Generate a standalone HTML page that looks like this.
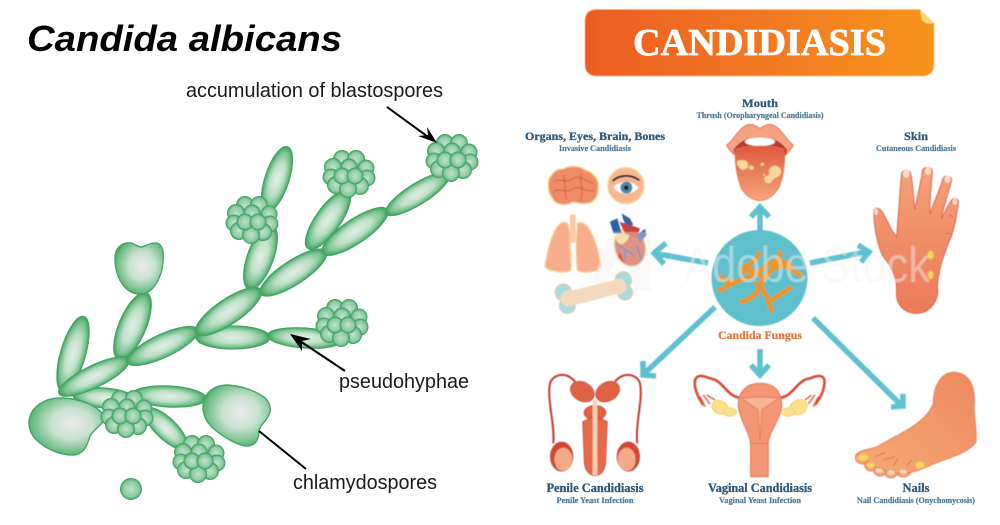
<!DOCTYPE html>
<html><head><meta charset="utf-8"><title>Candida albicans</title>
<style>html,body{margin:0;padding:0;background:#fff;width:1000px;height:525px;overflow:hidden}svg{display:block}
.lb{font-family:"Liberation Sans",sans-serif;fill:#1a1a1a}
.h{font-family:"Liberation Serif",serif;font-weight:bold;fill:#2f5a7c;stroke:#2f5a7c;stroke-width:.3;text-anchor:middle}
.s{font-family:"Liberation Serif",serif;font-weight:bold;fill:#4d7a9c;stroke:#4d7a9c;stroke-width:.2;text-anchor:middle}
</style></head><body>
<svg width="1000" height="525" viewBox="0 0 1000 525" xmlns="http://www.w3.org/2000/svg">
<defs>
<radialGradient id="c"><stop offset="0" stop-color="#e2efe6"/><stop offset=".5" stop-color="#bfe0c8"/><stop offset=".82" stop-color="#79c38f"/><stop offset="1" stop-color="#3fa060"/></radialGradient>
<radialGradient id="sp" cx=".56" cy=".45" r=".6"><stop offset="0" stop-color="#ece9ec"/><stop offset=".45" stop-color="#c8e2d0"/><stop offset=".85" stop-color="#6dbd85"/><stop offset="1" stop-color="#45a565"/></radialGradient>
<radialGradient id="b" cx=".5" cy=".5" r=".55"><stop offset="0" stop-color="#bfe2c9"/><stop offset=".65" stop-color="#8fcca2"/><stop offset="1" stop-color="#3fa060"/></radialGradient>
<linearGradient id="ban" x1="0" x2="1" y1="0" y2="0"><stop offset="0" stop-color="#ec5c24"/><stop offset="1" stop-color="#f7941e"/></linearGradient>
<linearGradient id="ton" x1="0" x2="0" y1="0" y2="1"><stop offset="0" stop-color="#de5a3c"/><stop offset="1" stop-color="#f7a57f"/></linearGradient>
<linearGradient id="skin" x1="0" x2="0" y1="0" y2="1"><stop offset="0" stop-color="#f5a279"/><stop offset="1" stop-color="#ea7a58"/></linearGradient>
<linearGradient id="ft" x1="1" x2="0" y1="0" y2="1"><stop offset="0" stop-color="#ee8a62"/><stop offset="1" stop-color="#f6a972"/></linearGradient>
<g id="cl" stroke="#45a565" stroke-width="1" fill="url(#b)">
<ellipse cx="0" cy="0" rx="19" ry="17" stroke="none" fill="#8fcca2"/>
<circle cx="-7" cy="-14" r="8.500"/><circle cx="7" cy="-14" r="8.500"/><circle cx="-16" cy="-6" r="8.500"/><circle cx="17" cy="-5" r="8"/><circle cx="-18" cy="4" r="8"/><circle cx="18" cy="5" r="8"/><circle cx="-13" cy="12" r="8.500"/><circle cx="11" cy="13" r="8.500"/><circle cx="-1" cy="16" r="8.500"/>
<circle cx="0" cy="-6" r="8"/><circle cx="-7" cy="3" r="8"/><circle cx="6" cy="3" r="8"/>
</g>
<filter id="bl" x="-5%" y="-5%" width="110%" height="110%"><feGaussianBlur stdDeviation=".45"/></filter>
<filter id="bl2" x="-5%" y="-5%" width="110%" height="110%"><feGaussianBlur stdDeviation=".3"/></filter>
</defs>

<!-- LEFT DIAGRAM -->
<text x="27" y="51" font-family="'Liberation Sans',sans-serif" font-weight="bold" font-style="italic" font-size="36" fill="#000" textLength="315" lengthAdjust="spacingAndGlyphs">Candida albicans</text>

<g filter="url(#bl2)">
<g fill="url(#c)" stroke="#45a565" stroke-width="1.2">
<ellipse cx="73" cy="354" rx="39" ry="12.500" transform="rotate(-74 73 354)"/>
<ellipse cx="132.5" cy="326" rx="36" ry="13.500" transform="rotate(-67 132.5 326)"/>
<ellipse cx="260.5" cy="257" rx="34" ry="13" transform="rotate(-70 260.5 257)"/>
<ellipse cx="277" cy="179" rx="34" ry="12" transform="rotate(-72 277 179)"/>
<ellipse cx="328" cy="220" rx="35" ry="12.500" transform="rotate(-55 328 220)"/>
<ellipse cx="105" cy="398" rx="32" ry="10" transform="rotate(5 105 398)"/>
<ellipse cx="169" cy="396.5" rx="37" ry="10.500" transform="rotate(3 169 396.500)"/>
<ellipse cx="166" cy="428.5" rx="28" ry="10.500" transform="rotate(44 166 428.5)"/>
<ellipse cx="94" cy="376.5" rx="39" ry="11" transform="rotate(-26 94 376.5)"/>
<ellipse cx="233" cy="337.5" rx="37" ry="11.500"/>
<ellipse cx="304.5" cy="338" rx="37" ry="10" transform="rotate(4 304.5 338)"/>
<ellipse cx="162.5" cy="346" rx="39" ry="11.500" transform="rotate(-25 162.5 346)"/>
<ellipse cx="228.5" cy="311.5" rx="39" ry="12.500" transform="rotate(-34 228.5 311.5)"/>
<ellipse cx="293.5" cy="272.5" rx="39" ry="12" transform="rotate(-33 293.5 272.5)"/>
<ellipse cx="355" cy="231.5" rx="39" ry="12" transform="rotate(-34 355 231.5)"/>
<ellipse cx="417.5" cy="194" rx="37" ry="10.500" transform="rotate(-32 417.5 194)"/>
</g>
<g fill="url(#sp)" stroke="#45a565" stroke-width="1.4">
<path d="M115,258C115,246 124,242 131,243C135,244 138,247 141,247C145,247 150,242 157,243C163,245 164,252 163,262C162,276 154,294 140,294C124,294 115,276 115,258Z"/>
<path d="M29,422C30,407 45,397 63,398C83,399 98,406 105,417C103,425 95,428 90,436C87,447 83,455 72,455C60,455 47,449 40,443C33,438 29,431 29,422Z"/>
<path d="M203,407C203,393 214,385 228,385C243,386 255,391 264,397C269,401 271,407 270,412C268,420 261,424 259,430C259,437 257,446 247,446C238,446 222,436 214,429C207,423 203,416 203,407Z"/>
</g>
<use href="#cl" x="452" y="157"/>
<use href="#cl" x="349" y="173"/>
<use href="#cl" x="252" y="219"/>
<use href="#cl" x="342" y="322"/>
<use href="#cl" x="127" y="413"/>
<use href="#cl" x="199" y="458"/>
<circle cx="131" cy="489" r="10.5" fill="url(#b)" stroke="#45a565"/>
</g>

<g stroke="#000" stroke-width="2" fill="none">
<line x1="387" y1="107" x2="431" y2="139"/>
<line x1="345" y1="371" x2="297" y2="339"/>
<line x1="306" y1="469" x2="259" y2="431"/>
</g>
<path d="M437,143L418,136L428,135L427,127Z" fill="#000"/>
<path d="M290,334L311,339L302,341L302,351Z" fill="#000"/>

<text class="lb" x="186" y="97" font-size="20" textLength="257" lengthAdjust="spacingAndGlyphs">accumulation of blastospores</text>
<text class="lb" x="339" y="388" font-size="20" textLength="130" lengthAdjust="spacingAndGlyphs">pseudohyphae</text>
<text class="lb" x="293" y="489" font-size="20" textLength="144" lengthAdjust="spacingAndGlyphs">chlamydospores</text>

<!-- RIGHT -->
<g filter="url(#bl)">
<path d="M597,9.500H920L934,23V64Q934,76 922,76H597Q585,76 585,64V21Q585,9.500 597,9.500Z" fill="url(#ban)"/>
<path d="M920,9.500L934,23Q925,25 922,20Z" fill="#f8d878"/>

<!-- Connector arrows -->
<g stroke="#5fc0cf" stroke-width="5.500" fill="none">
<path d="M760,231V209M751,217L760,207L769,217"/>
<path d="M708,263L658,254M666,243L654,253L664,264"/>
<path d="M810,263L866,252M858,245L869,252L861,262"/>
<path d="M715,307L645,373M643,361L643,375L656,376"/>
<path d="M760,349V373M751,365L760,375L769,365"/>
<path d="M813,318L901,405M903,394L903,406L891,407"/>
</g>

<!-- Central circle and fungus -->
<circle cx="759.500" cy="278" r="48" fill="#5fbfcc"/>
<g transform="translate(700,120) scale(.3333)" stroke="#e8962e" stroke-width="15" fill="none" stroke-linecap="round" stroke-linejoin="round">
<path d="M175,400C170,420 160,430 130,440"/>
<path d="M125,455C150,445 175,455 185,470"/>
<path d="M62,470C80,490 110,490 135,475C160,465 190,450 205,430C230,425 250,425 270,430"/>
<path d="M60,510L100,490"/>
<path d="M240,400C235,420 225,440 190,480C180,495 175,510 170,520C155,535 140,540 125,545"/>
<path d="M170,490C185,500 195,520 200,530L215,570"/>
<path d="M225,445C245,435 260,435 300,465"/>
<path d="M215,540L270,505"/>
</g>

<!-- Mouth -->
<g transform="translate(700,120) scale(.3333)">
<path d="M80,75C100,65 120,15 150,13C165,12 175,25 180,25C185,25 195,12 210,13C240,15 260,65 280,75C268,100 240,125 180,125C120,125 92,100 80,75Z" fill="#f5a283" stroke="#e8704f" stroke-width="3"/>
<path d="M100,90C120,60 150,50 180,52C210,50 240,60 262,90L250,125H112Z" fill="#b93a2a"/>
<ellipse cx="180" cy="65" rx="45" ry="13" fill="#fff"/>
<path d="M108,88C140,75 220,75 252,88C258,125 248,175 238,200C222,228 200,242 180,242C160,242 135,228 122,200C112,170 102,125 108,88Z" fill="url(#ton)" stroke="#e8704f" stroke-width="2.500"/>
<g fill="#f7d79b"><circle cx="120" cy="130" r="10"/><circle cx="130" cy="135" r="15"/><circle cx="154" cy="143" r="7"/><circle cx="225" cy="155" r="18"/><circle cx="205" cy="178" r="12"/><circle cx="215" cy="170" r="10"/><circle cx="187" cy="133" r="5"/><circle cx="192" cy="165" r="3"/></g>
</g>

<!-- Hand -->
<g transform="translate(700,120) scale(.3333)">
<path d="M522,270C530,258 545,268 555,290C565,310 575,335 590,350C595,290 600,210 605,160C607,148 630,148 632,160C640,200 640,240 645,268C652,230 662,190 668,150C672,140 695,140 697,152C695,190 688,240 690,282C705,240 720,205 730,175C735,165 755,168 755,180C745,220 730,260 724,298C735,275 745,255 755,240C760,232 778,235 775,250C770,290 760,340 745,370C730,410 715,450 712,500C720,540 690,580 650,580C610,580 585,550 590,510C590,470 575,440 550,410C535,385 520,320 522,270Z" fill="url(#skin)" stroke="#e2604a" stroke-width="3"/>
<g fill="#f7ddc8"><ellipse cx="619" cy="160" rx="10" ry="14"/><ellipse cx="684" cy="153" rx="9" ry="12"/><ellipse cx="743" cy="178" rx="9" ry="11"/><ellipse cx="765" cy="245" rx="7" ry="10"/><ellipse cx="528" cy="275" rx="6" ry="10"/></g>
<g fill="#f4d25a" stroke="#e8a850" stroke-width="3"><ellipse cx="692" cy="405" rx="10" ry="14"/><ellipse cx="692" cy="465" rx="9" ry="13"/></g>
<path d="M735,340H755M745,285L760,290" stroke="#d5553f" stroke-width="2" fill="none"/>
</g>

<!-- Organs -->
<g transform="translate(530,155) scale(.3333)">
<path d="M55,95C52,60 80,40 100,42C120,30 150,32 165,45C190,50 208,75 205,100C205,125 190,145 170,145C150,150 130,135 120,145C100,155 70,145 65,125C58,118 55,105 55,95Z" fill="#ef8a66" stroke="#f8d28e" stroke-width="4"/>
<g stroke="#d9613f" stroke-width="3" fill="none"><path d="M72,80C90,65 105,90 130,70C150,60 170,80 190,85"/><path d="M70,110C90,95 105,120 130,100C150,90 170,115 192,105"/><path d="M100,60C110,80 100,100 110,135M155,55C145,80 165,105 150,140"/></g>
<circle cx="288" cy="92" r="54" fill="#f7b692" stroke="#f8d48f" stroke-width="4"/>
<path d="M250,98C268,75 305,75 325,98C305,122 270,122 250,98Z" fill="#fff"/>
<circle cx="289" cy="98" r="18" fill="#4b88a9"/><circle cx="289" cy="98" r="7" fill="#12283a"/>
<path d="M248,78C270,58 305,58 328,76" stroke="#222" stroke-width="6" fill="none"/>
<rect x="120" y="178" width="17" height="85" fill="#f9c9a8"/>
<path d="M112,205C85,190 60,240 45,335C60,352 110,355 122,345C125,300 118,250 118,225Z" fill="#f8ad8c" stroke="#f6cf92" stroke-width="4"/>
<path d="M142,205C170,190 200,250 213,335C195,355 155,355 142,345C137,300 138,240 142,225Z" fill="#f8ad8c" stroke="#f6cf92" stroke-width="4"/>
<ellipse cx="300" cy="275" rx="46" ry="60" transform="rotate(-15 300 275)" fill="#d65542" stroke="#f6cf92" stroke-width="4"/>
<path d="M255,245C262,215 290,215 300,235C295,265 265,285 255,245Z" fill="#f8d87a"/>
<path d="M275,175L300,190L310,210L290,215L280,195ZM320,240L345,222L350,240L330,262Z" fill="#2f63a6"/>
<path d="M240,200L262,190L275,235L250,235Z" fill="#2f63a6"/>
<path d="M268,200L330,220L320,250L285,235Z" fill="#c8433c"/>
<path d="M265,270L310,300M320,270L335,315M285,285L285,315" stroke="#2f63a6" stroke-width="5" fill="none"/>
<g fill="#a8dbe0" stroke="#e9c98e" stroke-width="3"><circle cx="100" cy="412" r="25"/><circle cx="112" cy="452" r="24"/><circle cx="280" cy="375" r="25"/><circle cx="285" cy="412" r="23"/></g>
<path d="M115,432L270,393" stroke="#f5d9be" stroke-width="44"/>
<circle cx="115" cy="430" r="24" fill="#f5d9be"/><circle cx="265" cy="395" r="24" fill="#f5d9be"/>
</g>

<!-- Lower organs -->
<g transform="translate(510,300) scale(.3333)">
<path d="M195,245C170,215 130,220 120,250C110,300 135,370 130,430" fill="none" stroke="#c6392e" stroke-width="6"/>
<path d="M315,245C340,215 380,220 390,250C400,300 375,370 382,430" fill="none" stroke="#c6392e" stroke-width="6"/>
<ellipse cx="217" cy="275" rx="38" ry="28" transform="rotate(30 217 275)" fill="#e06244" stroke="#c6392e" stroke-width="2"/>
<ellipse cx="293" cy="275" rx="38" ry="28" transform="rotate(-30 293 275)" fill="#e06244" stroke="#c6392e" stroke-width="2"/>
<ellipse cx="255" cy="338" rx="33" ry="22" fill="#e0603f" stroke="#c6392e" stroke-width="2"/>
<path d="M218,365L240,355H272L292,365L287,490Q282,525 255,527Q228,525 223,490Z" fill="#e56a48" stroke="#c6392e" stroke-width="2"/>
<path d="M248,300H262V525H248Z" fill="#f6d0b8"/>
<ellipse cx="155" cy="470" rx="35" ry="45" fill="#cf4632"/><ellipse cx="160" cy="478" rx="27" ry="35" fill="#f4a98a"/>
<ellipse cx="355" cy="470" rx="35" ry="45" fill="#cf4632"/><ellipse cx="350" cy="478" rx="27" ry="35" fill="#f4a98a"/>

<g fill="#f8e08c" stroke="#f2cc5e" stroke-width="2"><ellipse cx="630" cy="322" rx="26" ry="20" transform="rotate(25 630 322)"/><ellipse cx="660" cy="336" rx="20" ry="13"/><ellipse cx="865" cy="322" rx="28" ry="22" transform="rotate(-25 865 322)"/><ellipse cx="835" cy="336" rx="20" ry="13"/></g>
<path d="M690,293C650,290 640,240 600,235C575,225 550,220 555,260C560,285 570,300 580,315" fill="none" stroke="#d65038" stroke-width="8"/>
<path d="M810,293C850,290 860,240 900,235C925,225 950,220 942,260C938,285 925,300 915,315" fill="none" stroke="#d65038" stroke-width="8"/>
<path d="M570,290L585,320M580,285L600,312M590,285L615,300M925,290L910,320M915,285L895,312M905,285L885,300" stroke="#d65038" stroke-width="4" fill="none"/>
<path d="M750,250C790,250 815,270 815,320C810,360 775,400 775,430V530H722V430C720,400 690,360 685,320C683,275 710,250 750,250Z" fill="#f39673" stroke="#e8704f" stroke-width="3"/>
<path d="M695,295C730,290 770,290 805,295L755,330L750,420L745,330Z" fill="#f7b396" stroke="#e8704f" stroke-width="2"/>
<path d="M722,430H775" stroke="#e8704f" stroke-width="2"/>
</g>

<!-- Foot -->
<g transform="translate(840,360) scale(.3333)">
<g fill="#f5a672" stroke="#e8805a" stroke-width="3"><ellipse cx="70" cy="293" rx="24" ry="19"/><ellipse cx="94" cy="316" rx="20" ry="17"/><ellipse cx="120" cy="333" rx="18" ry="15"/><ellipse cx="153" cy="340" rx="17" ry="14"/><ellipse cx="190" cy="337" rx="20" ry="14"/></g>
<path d="M280,130C280,70 310,35 345,37C390,40 405,80 403,130C400,170 412,210 408,245C395,272 340,290 280,312C250,325 225,338 190,340C150,340 110,325 85,305C65,295 55,288 52,280C70,265 100,270 120,255C170,225 260,190 280,130Z" fill="url(#ft)" stroke="#e8805a" stroke-width="3"/>
<g fill="#f8d9c0"><ellipse cx="70" cy="292" rx="16" ry="10" fill="#f5d65e"/><ellipse cx="92" cy="315" rx="12" ry="8" fill="#f5d65e"/><ellipse cx="118" cy="332" rx="11" ry="7"/><ellipse cx="153" cy="338" rx="11" ry="7"/><ellipse cx="190" cy="335" rx="11" ry="7"/><ellipse cx="240" cy="315" rx="14" ry="10" fill="#f5d65e"/></g>
<path d="M105,290L135,278M130,300L165,290M160,318L175,295M200,318L215,300" stroke="#d5553f" stroke-width="2" fill="none"/>
</g>

<!-- Watermark -->
<path d="M592,283L610,232L651,232V290H635L620,252L605,283Z" fill="#eeeeee" opacity=".4"/>
<text x="683" y="282" font-family="'Liberation Sans',sans-serif" font-size="50" fill="#f2f2f2" opacity=".45" textLength="247" lengthAdjust="spacingAndGlyphs">Adobe Stock</text>
</g>

<text x="759.500" y="55" font-family="'Liberation Serif',serif" font-weight="bold" font-size="38" fill="#fff" stroke="#fff" stroke-width=".7" text-anchor="middle" textLength="253" lengthAdjust="spacingAndGlyphs">CANDIDIASIS</text>

<text class="h" x="760" y="107" font-size="12" textLength="36" lengthAdjust="spacingAndGlyphs">Mouth</text>
<text class="s" x="760" y="118" font-size="8" textLength="127" lengthAdjust="spacingAndGlyphs">Thrush (Oropharyngeal Candidiasis)</text>
<text class="h" x="595" y="140" font-size="12" textLength="140" lengthAdjust="spacingAndGlyphs">Organs, Eyes, Brain, Bones</text>
<text class="s" x="595" y="151" font-size="8" textLength="72" lengthAdjust="spacingAndGlyphs">Invasive Candidiasis</text>
<text class="h" x="916" y="140" font-size="12" textLength="24" lengthAdjust="spacingAndGlyphs">Skin</text>
<text class="s" x="916" y="151" font-size="8" textLength="80" lengthAdjust="spacingAndGlyphs">Cutaneous Candidiasis</text>
<text x="760" y="339" font-family="'Liberation Serif',serif" font-weight="bold" font-size="12" fill="#e8743c" stroke="#e8743c" stroke-width=".25" text-anchor="middle" textLength="84" lengthAdjust="spacingAndGlyphs">Candida Fungus</text>
<text class="h" x="595" y="492" font-size="12.500" textLength="97" lengthAdjust="spacingAndGlyphs">Penile Candidiasis</text>
<text class="s" x="595" y="503" font-size="8" textLength="77" lengthAdjust="spacingAndGlyphs">Penile Yeast Infection</text>
<text class="h" x="760" y="492" font-size="12.500" textLength="104" lengthAdjust="spacingAndGlyphs">Vaginal Candidiasis</text>
<text class="s" x="760" y="503" font-size="8" textLength="82" lengthAdjust="spacingAndGlyphs">Vaginal Yeast Infection</text>
<text class="h" x="916" y="492" font-size="12.500" textLength="27" lengthAdjust="spacingAndGlyphs">Nails</text>
<text class="s" x="916" y="503" font-size="8" textLength="118" lengthAdjust="spacingAndGlyphs">Nail Candidiasis (Onychomycosis)</text>
</svg>
</body></html>
